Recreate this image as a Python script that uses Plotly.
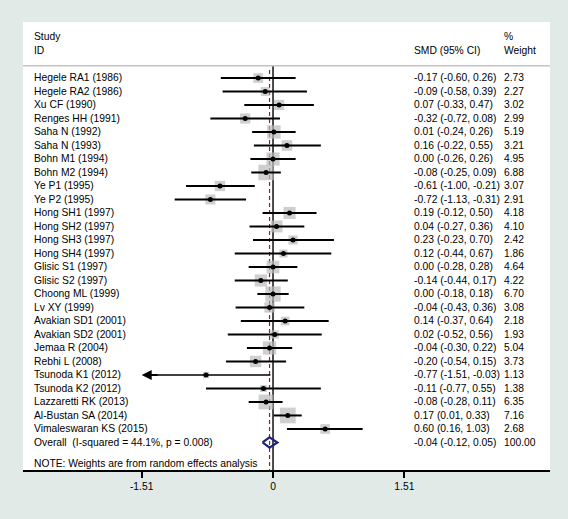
import plotly.graph_objects as go
import math

studies = ["Hegele RA1 (1986)", "Hegele RA2 (1986)", "Xu CF (1990)", "Renges HH (1991)",
           "Saha N (1992)", "Saha N (1993)", "Bohn M1 (1994)", "Bohn M2 (1994)",
           "Ye P1 (1995)", "Ye P2 (1995)", "Hong SH1 (1997)", "Hong SH2 (1997)",
           "Hong SH3 (1997)", "Hong SH4 (1997)", "Glisic S1 (1997)", "Glisic S2 (1997)",
           "Choong ML (1999)", "Lv XY (1999)", "Avakian SD1 (2001)", "Avakian SD2 (2001)",
           "Jemaa R (2004)", "Rebhi L (2008)", "Tsunoda K1 (2012)", "Tsunoda K2 (2012)",
           "Lazzaretti RK (2013)", "Al-Bustan SA (2014)", "Vimaleswaran KS (2015)"]
smd = [-0.17, -0.09, 0.07, -0.32, 0.01, 0.16, 0.00, -0.08, -0.61, -0.72, 0.19, 0.04, 0.23, 0.12,
       0.00, -0.14, 0.00, -0.04, 0.14, 0.02, -0.04, -0.20, -0.77, -0.11, -0.08, 0.17, 0.60]
ci_low = [-0.60, -0.58, -0.33, -0.72, -0.24, -0.22, -0.26, -0.25, -1.00, -1.13, -0.12, -0.27, -0.23, -0.44,
          -0.28, -0.44, -0.18, -0.43, -0.37, -0.52, -0.30, -0.54, -1.51, -0.77, -0.28, 0.01, 0.16]
ci_high = [0.26, 0.39, 0.47, 0.08, 0.26, 0.55, 0.26, 0.09, -0.21, -0.31, 0.50, 0.36, 0.70, 0.67,
           0.28, 0.17, 0.18, 0.36, 0.64, 0.56, 0.22, 0.15, -0.03, 0.55, 0.11, 0.33, 1.03]
weights = [2.73, 2.27, 3.02, 2.99, 5.19, 3.21, 4.95, 6.88, 3.07, 2.91, 4.18, 4.10, 2.42, 1.86,
           4.64, 4.22, 6.70, 3.08, 2.18, 1.93, 5.04, 3.73, 1.13, 1.38, 6.35, 7.16, 2.68]
overall_est = -0.04
overall_low = -0.12
overall_high = 0.05
overall_weight = 100.00
overall_label = "Overall  (I-squared = 44.1%, p = 0.008)"
note_text = "NOTE: Weights are from random effects analysis"
tick_vals = [-1.51, 0, 1.51]
tick_text = ["-1.51", "0", "1.51"]

FONT = "Liberation Sans, Arial, Helvetica, sans-serif"
FS = 10.3
BG = "#e2eae8"
n = len(studies)
rows = list(range(n))
overall_row = n
note_row = n + 1.55
clip_idx = [i for i in rows if ci_low[i] <= -1.51]

fig = go.Figure()

# zero line and overall dashed line
fig.add_trace(go.Scatter(x=[0, 0], y=[-0.91, 29.2], mode="lines",
                         line=dict(color="black", width=1.4), hoverinfo="skip", showlegend=False))
fig.add_trace(go.Scatter(x=[overall_est, overall_est], y=[-0.6, 29.2], mode="lines",
                         line=dict(color="#8e2230", width=1.2, dash="4px,3px"), hoverinfo="skip", showlegend=False))

# weight squares
fig.add_trace(go.Scatter(x=smd, y=rows, mode="markers",
                         marker=dict(symbol="square", color="#bababa",
                                     size=[5.9 * math.sqrt(w) for w in weights], line=dict(width=0)),
                         hoverinfo="skip", showlegend=False))

# CI lines
cx, cy = [], []
for i in rows:
    if i in clip_idx:
        continue
    cx += [ci_low[i], ci_high[i], None]
    cy += [i, i, None]
fig.add_trace(go.Scatter(x=cx, y=cy, mode="lines", line=dict(color="black", width=2),
                         hoverinfo="skip", showlegend=False))
for i in clip_idx:
    fig.add_trace(go.Scatter(x=[ci_low[i] + 0.05, ci_high[i]], y=[i, i], mode="lines",
                             line=dict(color="black", width=1.4), hoverinfo="skip", showlegend=False))
    fig.add_annotation(x=ci_low[i], y=i, ax=ci_low[i] + 0.2, ay=i, xref="x", yref="y",
                       axref="x", ayref="y", text="", showarrow=True, arrowhead=2,
                       arrowsize=1, arrowwidth=2, arrowcolor="black")

# point estimates
fig.add_trace(go.Scatter(x=smd, y=rows, mode="markers",
                         marker=dict(symbol="circle", color="black", size=5),
                         hoverinfo="skip", showlegend=False))

# overall diamond
h = 0.38
fig.add_trace(go.Scatter(x=[overall_low, overall_est, overall_high, overall_est, overall_low],
                         y=[overall_row, overall_row - h, overall_row, overall_row + h, overall_row],
                         mode="lines", line=dict(color="#1b237e", width=2.2),
                         hoverinfo="skip", showlegend=False))

# text columns
def txt(xp, y, s, anchor="left"):
    fig.add_annotation(x=xp, y=y, xref="paper", yref="y", text=s, showarrow=False,
                       xanchor=anchor, yanchor="middle", font=dict(family=FONT, size=FS, color="black"))

X_LABEL, X_SMD, X_W = 0.0171, 0.7375, 0.9085
txt(X_LABEL, -3.11, "Study")
txt(X_LABEL, -2.02, "ID")
txt(X_SMD, -2.02, "SMD (95% CI)")
txt(X_W, -3.11, "%")
txt(X_W, -2.02, "Weight")
for i in rows:
    txt(X_LABEL, i, studies[i])
    txt(X_SMD, i, f"{smd[i]:.2f} ({ci_low[i]:.2f}, {ci_high[i]:.2f})")
    txt(X_W, i, f"{weights[i]:.2f}")
txt(X_LABEL, overall_row, overall_label.replace("  ", "&nbsp; "))
txt(X_SMD, overall_row, f"{overall_est:.2f} ({overall_low:.2f}, {overall_high:.2f})")
txt(X_W, overall_row, f"{overall_weight:.2f}")
txt(X_LABEL, note_row, note_text)

# header separator
fig.add_shape(type="line", xref="paper", yref="y", x0=0, x1=1, y0=-0.91, y1=-0.91,
              line=dict(color="#c4c4c8", width=1.5))

fig.update_layout(
    width=568, height=519,
    margin=dict(l=23, r=18, t=22, b=49, autoexpand=False),
    paper_bgcolor=BG, plot_bgcolor="white",
    font=dict(family=FONT, size=FS, color="black"),
    showlegend=False,
    xaxis=dict(range=[-2.874, 3.184], showgrid=False, zeroline=False, showline=True,
               linecolor="black", linewidth=1.5, ticks="outside", ticklen=6, tickwidth=1.5,
               tickcolor="black", tickvals=tick_vals, ticktext=tick_text,
               tickfont=dict(family=FONT, size=FS, color="black")),
    yaxis=dict(range=[29.04, -4.148], visible=False, showgrid=False, zeroline=False),
)

fig.write_html("out.html", config={"displayModeBar": False},
               post_script="document.body.style.margin='0';document.body.style.background='" + BG + "';")
